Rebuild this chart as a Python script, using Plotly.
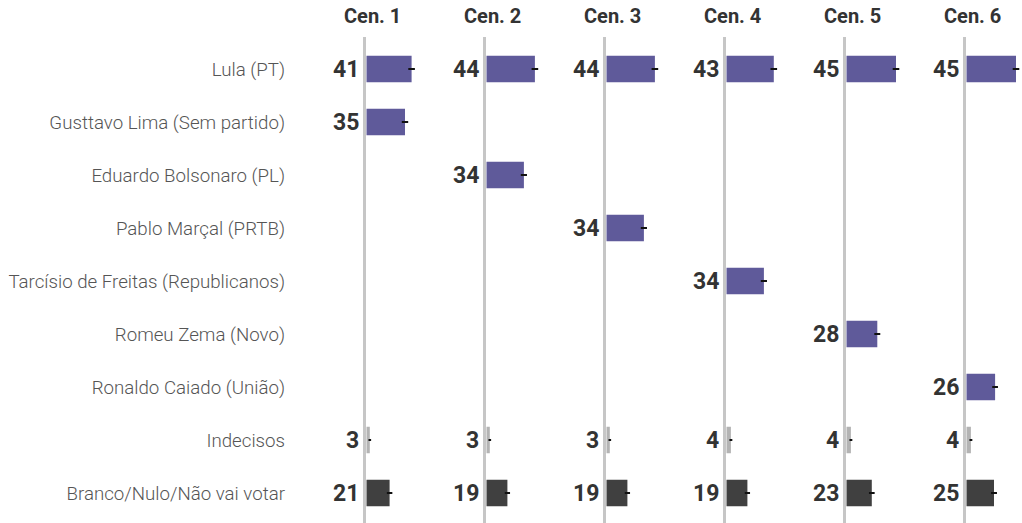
import plotly.graph_objects as go

scenarios = ["Cen. 1", "Cen. 2", "Cen. 3", "Cen. 4", "Cen. 5", "Cen. 6"]
labels = [
    "Lula (PT)",
    "Gusttavo Lima (Sem partido)",
    "Eduardo Bolsonaro (PL)",
    "Pablo Marçal (PRTB)",
    "Tarcísio de Freitas (Republicanos)",
    "Romeu Zema (Novo)",
    "Ronaldo Caiado (União)",
    "Indecisos",
    "Branco/Nulo/Não vai votar",
]
# values per scenario (None = not in scenario)
cen1 = [41, 35, None, None, None, None, None, 3, 21]
cen2 = [44, None, 34, None, None, None, None, 3, 19]
cen3 = [44, None, None, 34, None, None, None, 3, 19]
cen4 = [43, None, None, None, 34, None, None, 4, 19]
cen5 = [45, None, None, None, None, 28, None, 4, 23]
cen6 = [45, None, None, None, None, None, 26, 4, 25]
# margin-of-error tick half-lengths
err1 = [3.0, 2.9, 0, 0, 0, 0, 0, 1.2, 2.5]
err2 = [3.0, 0, 2.8, 0, 0, 0, 0, 1.2, 2.4]
err3 = [3.0, 0, 0, 2.8, 0, 0, 0, 1.2, 2.4]
err4 = [3.0, 0, 0, 0, 2.8, 0, 0, 1.3, 2.4]
err5 = [3.0, 0, 0, 0, 0, 2.7, 0, 1.3, 2.6]
err6 = [3.0, 0, 0, 0, 0, 0, 2.6, 1.3, 2.7]

values = [cen1, cen2, cen3, cen4, cen5, cen6]
errors = [err1, err2, err3, err4, err5, err6]

PURPLE = "#5f5a9a"
DARK = "#404040"
LIGHT = "#b3b3b3"
colors = [PURPLE] * 7 + [LIGHT, DARK]

W, H = 1022, 523
PXU = 1.1          # pixels per percentage point
LEFT_PX = 80
zeros = [366.5 + 120 * i for i in range(6)]
top_px = 37

fig = go.Figure()
layout_axes = {}
annotations = []
shapes = []

for i, (sc, vals, errs) in enumerate(zip(scenarios, values, errors)):
    xa = "x" if i == 0 else f"x{i+1}"
    xkey = "xaxis" if i == 0 else f"xaxis{i+1}"
    ys = [l for l, v in zip(labels, vals) if v is not None]
    xs = [v for v in vals if v is not None]
    es = [e for v, e in zip(vals, errs) if v is not None]
    cs = [c for v, c in zip(vals, colors) if v is not None]
    fig.add_trace(go.Bar(
        x=xs, y=ys, orientation="h", xaxis=xa, yaxis="y",
        marker=dict(color=cs, line=dict(width=0)),
        width=0.5,
        error_x=dict(type="data", array=es, symmetric=True, color="#111111",
                     thickness=2.2, width=0),
        showlegend=False, hoverinfo="x+y",
    ))
    z = zeros[i]
    d0 = (z - LEFT_PX) / W
    d1 = min((z + 56) / W, 1.0)
    layout_axes[xkey] = dict(
        domain=[d0, d1], range=[-LEFT_PX / PXU, (d1 * W - z) / PXU],
        showgrid=False, zeroline=False, showticklabels=False, showline=False,
        fixedrange=True, anchor="y",
    )
    shapes.append(dict(
        type="rect", xref=xa, yref="paper", xsizemode="pixel", xanchor=0,
        x0=-3.5, x1=-0.5, y0=0, y1=1 - top_px / H,
        fillcolor="#c6c6c6", line=dict(width=0), layer="below",
    ))
    annotations.append(dict(
        xref=xa, yref="paper", x=0, y=1 - 16.5 / H, text=f"<b>{sc}</b>",
        showarrow=False, xanchor="center", yanchor="middle", xshift=6,
        font=dict(family="Roboto", size=20, color="#333333"),
    ))
    for l, v in zip(ys, xs):
        annotations.append(dict(
            xref=xa, yref="y", x=0, y=l, text=f"<b>{v}</b>",
            showarrow=False, xanchor="right", yanchor="middle", xshift=-6,
            font=dict(family="Roboto", size=23, color="#333333"),
        ))

row_top = 69
row_step = 53
n = len(labels)
y_top = -(row_top - top_px) / row_step
y_bot = (n - 1) + (H - (row_top + (n - 1) * row_step)) / row_step

fig.update_layout(
    width=W, height=H,
    margin=dict(l=0, r=0, t=0, b=0),
    paper_bgcolor="white", plot_bgcolor="rgba(0,0,0,0)",
    yaxis=dict(
        domain=[0, 1 - top_px / H], anchor="free", position=285 / W,
        type="category", categoryorder="array", categoryarray=labels,
        range=[y_bot, y_top], showgrid=False, zeroline=False, showline=False,
        ticks="", tickfont=dict(family="Roboto", size=18.7, color="#555555", weight=300),
        fixedrange=True,
    ),
    annotations=annotations,
    shapes=shapes,
    bargap=0.5,
)
fig.update_layout(**layout_axes)

fig.write_html("out.html", config={"displayModeBar": False},
               post_script="document.body.style.margin='0';")
